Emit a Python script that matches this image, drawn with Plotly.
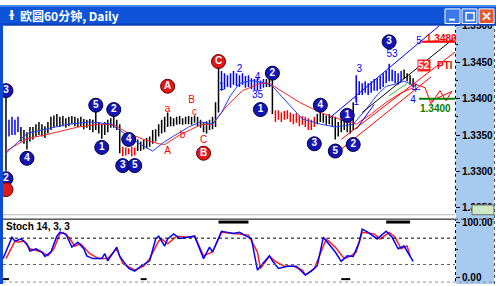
import plotly.graph_objects as go

W, H = 496, 286

# ---------------- data (prices in pips above 1.3000) ----------------
bar_high = [404, 371, 375, 371, 375, 361, 357, 354, 361, 361,
            365, 368, 365, 362, 368, 375, 377, 379, 375, 376,
            373, 375, 376, 375, 373, 375, 372, 371, 372, 371,
            388, 368, 365, 368, 371, 373, 384, 371, 365, 334,
            333, 332, 334, 333, 344, 341, 344, 346, 348, 357,
            358, 365, 371, 375, 381, 375, 373, 375, 376, 373,
            375, 376, 375, 377, 375, 371, 368, 369, 371, 375,
            395, 451, 438, 435, 432, 435, 438, 435, 432, 435,
            431, 432, 428, 427, 428, 425, 427, 427, 427, 428,
            384, 384, 381, 383, 384, 381, 379, 380, 377, 376,
            375, 373, 371, 375, 379, 381, 379, 377, 379, 376,
            375, 368, 371, 371, 368, 373, 395, 432, 424, 421,
            424, 421, 424, 427, 428, 431, 435, 438, 448, 440,
            438, 435, 438, 440, 435, 432, 428]
bar_low = [301, 348, 350, 350, 354, 341, 338, 330, 341, 344,
           348, 350, 348, 346, 352, 357, 361, 362, 361, 362,
           360, 362, 365, 362, 361, 362, 358, 360, 357, 354,
           357, 352, 345, 350, 354, 360, 360, 357, 325, 321,
           322, 324, 321, 322, 328, 328, 330, 332, 334, 338,
           341, 348, 352, 354, 361, 362, 362, 364, 365, 364,
           365, 365, 364, 367, 362, 360, 354, 352, 357, 358,
           361, 381, 411, 413, 416, 415, 419, 417, 416, 419,
           415, 416, 413, 412, 411, 413, 415, 416, 416, 379,
           368, 371, 368, 371, 372, 368, 365, 367, 362, 364,
           361, 357, 357, 361, 365, 368, 367, 364, 365, 362,
           344, 348, 354, 357, 354, 352, 357, 395, 405, 405,
           408, 405, 408, 411, 411, 413, 416, 421, 424, 424,
           421, 419, 424, 427, 424, 419, 416]
bar_segments = [(0, 0, "#000000"), (1, 4, "#0000FF"), (5, 38, "#000000"),
                (39, 43, "#FF0000"), (44, 71, "#000000"), (72, 86, "#0000FF"),
                (87, 89, "#000000"), (90, 103, "#FF0000"), (104, 116, "#000000"),
                (117, 132, "#0000FF"), (133, 136, "#000000")]

ma_blue_t = [0, 7, 12, 21, 28, 35, 41, 45, 49, 53, 61, 65, 69, 72, 75, 78, 82, 87,
             89, 94, 99, 105, 110, 116, 120, 124, 127, 131, 133, 136]
ma_blue_v = [325, 352, 357, 365, 368, 365, 348, 337, 328, 341, 361, 368, 365, 381,
             404, 421, 425, 421, 417, 395, 372, 365, 361, 365, 384, 405, 417, 421, 424, 419]
ma_red_t = [0, 7, 15, 24, 31, 36, 41, 46, 51, 53, 58, 65, 69, 74, 79, 85, 88, 93,
            98, 105, 112, 117, 122, 127, 132, 136]
ma_red_v = [328, 345, 352, 361, 365, 364, 352, 344, 338, 337, 350, 364, 365, 391,
            411, 421, 421, 408, 395, 381, 371, 365, 379, 395, 408, 415]

trend_lines = [  # (t list, pips list, colour)
    ([108, 147], [373, 508], "#0000FF"),
    ([117, 123], [358, 392], "#0000FF"),
    ([119, 150], [381, 484], "#000000"),
    ([112, 150], [344, 464], "#FF0000"),
    ([110, 142], [324, 430], "#FF0000"),
    ([128, 134], [404, 421], "#33CC33"),
    ([136, 140, 142, 145, 147, 149], [421, 415, 393, 411, 397, 411], "#FF0000"),
    ([142, 149], [397, 410], "#FF0000"),
]
level_hi = 1.3478
level_lo = 1.3400

blue_circle_t = [0, 0, 7, 30, 36, 32, 41, 39, 43, 85, 89, 105, 103, 110, 116, 114, 128]
blue_circle_v = [411, 290, 318, 391, 385, 333, 344, 308, 308, 385, 435, 391, 338, 328, 337, 377, 478]
blue_circle_txt = ["3", "2", "4", "5", "2", "1", "4", "3", "5", "1", "2", "4", "3", "5", "2", "1", "3"]
red_circle_t = [0, 54, 71, 66]
red_circle_v = [275, 417, 451, 325]
red_circle_txt = ["", "A", "C", "B"]
red_text_t = [54, 62, 63, 59, 54, 66]
red_text_v = [385, 398, 381, 350, 328, 342]
red_text_txt = ["a", "B", "c", "b", "A", "C"]
blue_text_t = [78, 84, 84, 72, 118, 129, 138, 117, 137, 136]
blue_text_v = [440, 429, 404, 415, 440, 460, 478, 395, 413, 398]
blue_text_txt = ["2", "4", "35", "1", "3", "53", "5", "1", "4-", "4"]

stoch_k_t = [-1, 2, 3, 5, 7, 8, 10, 12, 13, 15, 17, 18, 20, 22, 24, 26, 27, 29, 32, 33,
             34, 37, 38, 41, 43, 45, 48, 50, 51, 53, 54, 56, 58, 60, 63, 66, 68, 69, 72, 74,
             76, 78, 81, 82, 84, 88, 89, 91, 94, 97, 100, 102, 104, 106, 110, 112, 114, 116, 118, 119,
             121, 124, 127, 129, 131, 133, 136]
stoch_k_v = [34, 73, 66, 70, 61, 48, 52, 46, 38, 46, 75, 82, 79, 55, 64, 52, 39, 34, 34, 43,
             30, 55, 38, 16, 11, 20, 30, 70, 75, 57, 70, 79, 71, 73, 75, 34, 55, 46, 84, 82,
             80, 82, 73, 70, 13, 39, 30, 16, 20, 20, 4, 11, 21, 73, 46, 29, 39, 38, 64, 88,
             82, 70, 84, 73, 52, 57, 29]
stoch_d_t = [0, 3, 4, 6, 8, 11, 12, 14, 16, 18, 19, 21, 23, 25, 28, 31, 33, 34, 37, 39,
             43, 46, 48, 51, 52, 54, 57, 61, 63, 66, 69, 72, 76, 81, 84, 85, 88, 90, 93, 96,
             99, 100, 103, 107, 110, 113, 115, 117, 119, 123, 125, 128, 130, 132, 134, 135]
stoch_d_v = [34, 66, 64, 66, 52, 48, 46, 39, 52, 79, 82, 73, 57, 61, 43, 34, 34, 34, 52, 25,
             13, 20, 34, 66, 70, 61, 75, 73, 75, 39, 46, 82, 80, 77, 46, 16, 38, 29, 20, 20,
             13, 4, 16, 70, 55, 34, 38, 46, 82, 79, 70, 82, 73, 52, 57, 39]
stoch_levels = [71.4, 23.2]
sess_top = [(71, 81), (127, 135)]
sess_bot = [(-1, 1), (45, 47), (112, 115)]


def price(p):
    return 1.3 + p / 10000.0


def fx(px):
    return px / W


def fy(py):
    return 1 - py / H


fig = go.Figure()

# price bars
for a, b, col in bar_segments:
    xs, ys = [], []
    for t in range(a, b + 1):
        xs += [t, t, None]
        ys += [price(bar_low[t]), price(bar_high[t]), None]
    fig.add_trace(go.Scatter(x=xs, y=ys, mode="lines", line=dict(color=col, width=1.5),
                             hoverinfo="skip", xaxis="x", yaxis="y"))

# moving averages
fig.add_trace(go.Scatter(x=ma_red_t, y=[price(v) for v in ma_red_v], mode="lines",
                         line=dict(color="#FF2020", width=1), xaxis="x", yaxis="y"))
fig.add_trace(go.Scatter(x=ma_blue_t, y=[price(v) for v in ma_blue_v], mode="lines",
                         line=dict(color="#2040FF", width=1), xaxis="x", yaxis="y"))

for ts, vs, col in trend_lines:
    fig.add_trace(go.Scatter(x=ts, y=[price(v) for v in vs], mode="lines",
                             line=dict(color=col, width=1), xaxis="x", yaxis="y"))

# levels
fig.add_trace(go.Scatter(x=[139, 150], y=[level_hi, level_hi], mode="lines",
                         line=dict(color="#FF0000", width=2), xaxis="x", yaxis="y"))
fig.add_trace(go.Scatter(x=[138, 150], y=[level_lo, level_lo], mode="lines",
                         line=dict(color="#008000", width=2), xaxis="x", yaxis="y"))

# wave circles
fig.add_trace(go.Scatter(
    x=blue_circle_t, y=[price(v) for v in blue_circle_v], mode="markers+text",
    text=blue_circle_txt, textposition="middle center",
    textfont=dict(family="Liberation Sans", size=10, color="white", weight="bold"),
    marker=dict(size=14, color="#1414B4", line=dict(color="#000040", width=1)),
    xaxis="x", yaxis="y"))
fig.add_trace(go.Scatter(
    x=red_circle_t, y=[price(v) for v in red_circle_v], mode="markers+text",
    text=red_circle_txt, textposition="middle center",
    textfont=dict(family="Liberation Sans", size=10, color="white", weight="bold"),
    marker=dict(size=14, color="#E01818", line=dict(color="#600000", width=1)),
    xaxis="x", yaxis="y"))
fig.add_trace(go.Scatter(
    x=red_text_t, y=[price(v) for v in red_text_v], mode="text", text=red_text_txt,
    textposition="middle center",
    textfont=dict(family="Liberation Sans", size=10, color="#FF0000"),
    xaxis="x", yaxis="y"))
fig.add_trace(go.Scatter(
    x=blue_text_t, y=[price(v) for v in blue_text_v], mode="text", text=blue_text_txt,
    textposition="middle center",
    textfont=dict(family="Liberation Sans", size=10, color="#0000FF"),
    xaxis="x", yaxis="y"))

# stochastic
fig.add_trace(go.Scatter(x=stoch_d_t, y=stoch_d_v, mode="lines",
                         line=dict(color="#FF2020", width=1.5), xaxis="x2", yaxis="y2"))
fig.add_trace(go.Scatter(x=stoch_k_t, y=stoch_k_v, mode="lines",
                         line=dict(color="#0000FF", width=1.5), xaxis="x2", yaxis="y2"))

tickfont = dict(family="Liberation Sans", size=10, color="black", weight="bold")
fig.update_layout(
    width=W, height=H, margin=dict(l=0, r=0, t=0, b=0),
    paper_bgcolor="white", plot_bgcolor="white", showlegend=False, hovermode=False,
    font=dict(family="Liberation Sans"),
    xaxis=dict(domain=[fx(3), fx(455)], range=[-1, 150], showticklabels=False,
               showgrid=False, zeroline=False, ticks="", anchor="y"),
    yaxis=dict(domain=[fy(213), fy(21)], range=[1.32432, 1.35005], side="right", anchor="x",
               showgrid=False, zeroline=False, tick0=1.3, dtick=0.005, tickformat=".4f",
               ticks="outside", ticklen=4, tickcolor="black", tickfont=tickfont,
               minor=dict(tick0=1.3, dtick=0.0025, ticks="outside", ticklen=2, tickcolor="black")),
    xaxis2=dict(domain=[fx(3), fx(455)], matches="x", showticklabels=False,
                showgrid=False, zeroline=False, ticks="", anchor="y2"),
    yaxis2=dict(domain=[fy(283), fy(219)], range=[-7.14, 107.14], side="right", anchor="x2",
                showgrid=False, zeroline=False, tickmode="array", tickvals=[0, 100],
                ticktext=["0.00", "100.00"], ticks="outside", ticklen=4, tickcolor="black",
                tickfont=tickfont,
                minor=dict(tickmode="array", tickvals=[50], ticks="outside", ticklen=2,
                           tickcolor="black")),
)

shapes = []
# right axis panel
shapes.append(dict(type="rect", xref="paper", yref="paper", x0=fx(456), x1=fx(494), y0=0, y1=fy(21),
                   fillcolor="#A6CAF0", line=dict(width=0), layer="below"))
# separator and borders
shapes.append(dict(type="line", xref="paper", yref="paper", x0=fx(3), x1=fx(455), y0=fy(215), y1=fy(215),
                   line=dict(color="#B8B8B8", width=1)))
shapes.append(dict(type="line", xref="paper", yref="paper", x0=fx(3), x1=fx(455), y0=fy(219.5), y1=fy(219.5),
                   line=dict(color="#000000", width=1)))
shapes.append(dict(type="line", xref="paper", yref="paper", x0=fx(455), x1=fx(494), y0=fy(219.5), y1=fy(219.5),
                   line=dict(color="#404040", width=1, dash="dot")))
shapes.append(dict(type="line", xref="paper", yref="paper", x0=fx(3), x1=fx(494), y0=fy(284), y1=fy(284),
                   line=dict(color="#909090", width=1, dash="dot")))
shapes.append(dict(type="line", xref="paper", yref="paper", x0=fx(455.5), x1=fx(455.5), y0=fy(213), y1=fy(21),
                   line=dict(color="#000000", width=1, dash="dot")))
shapes.append(dict(type="line", xref="paper", yref="paper", x0=fx(455.5), x1=fx(455.5), y0=fy(283), y1=fy(220),
                   line=dict(color="#000000", width=1, dash="dot")))
shapes.append(dict(type="line", xref="paper", yref="paper", x0=fx(494.5), x1=fx(494.5), y0=0, y1=fy(21),
                   line=dict(color="#505050", width=1, dash="dot")))
# stochastic levels
for i, lv in enumerate(stoch_levels):
    shapes.append(dict(type="line", xref="x2 domain", yref="y2", x0=0, x1=1, y0=lv, y1=lv,
                       line=dict(color="#000000" if i == 0 else "#606060", width=1, dash="dot")))
for a, b in sess_top:
    shapes.append(dict(type="line", xref="x2", yref="paper", x0=a, x1=b, y0=fy(222.5), y1=fy(222.5),
                       line=dict(color="#000000", width=3)))
for a, b in sess_bot:
    shapes.append(dict(type="line", xref="x2", yref="paper", x0=a, x1=b, y0=fy(281), y1=fy(281),
                       line=dict(color="#000000", width=2)))
# small icon at bottom of price axis
shapes.append(dict(type="rect", xref="paper", yref="paper", x0=fx(472), x1=fx(494), y0=fy(215), y1=fy(205),
                   fillcolor="#CFE8C8", line=dict(color="#607060", width=1), layer="above"))
# window chrome
shapes.append(dict(type="rect", xref="paper", yref="paper", x0=0, x1=1, y0=fy(21), y1=1,
                   fillcolor="#0F54D8", line=dict(width=0), layer="above"))
shapes.append(dict(type="rect", xref="paper", yref="paper", x0=0, x1=1, y0=fy(2), y1=1,
                   fillcolor="#3C88F4", line=dict(width=0), layer="above"))
shapes.append(dict(type="rect", xref="paper", yref="paper", x0=0, x1=1, y0=fy(21), y1=fy(19),
                   fillcolor="#0A3FB4", line=dict(width=0), layer="above"))
shapes.append(dict(type="rect", xref="paper", yref="paper", x0=0, x1=fx(3), y0=0, y1=fy(19),
                   fillcolor="#0B4CD4", line=dict(width=0), layer="above"))
for x0, col in [(445, "#3A78EC"), (462, "#3A78EC"), (479, "#E2582E")]:
    shapes.append(dict(type="rect", xref="paper", yref="paper", x0=fx(x0), x1=fx(x0 + 15),
                       y0=fy(19), y1=fy(4), fillcolor=col, line=dict(color="white", width=1),
                       layer="above"))
shapes.append(dict(type="line", xref="paper", yref="paper", x0=fx(449), x1=fx(455), y0=fy(15), y1=fy(15),
                   line=dict(color="white", width=2), layer="above"))
shapes.append(dict(type="rect", xref="paper", yref="paper", x0=fx(466), x1=fx(474), y0=fy(16), y1=fy(8),
                   line=dict(color="white", width=1.5), layer="above"))
shapes.append(dict(type="line", xref="paper", yref="paper", x0=fx(483), x1=fx(490), y0=fy(8), y1=fy(15),
                   line=dict(color="white", width=2), layer="above"))
shapes.append(dict(type="line", xref="paper", yref="paper", x0=fx(490), x1=fx(483), y0=fy(8), y1=fy(15),
                   line=dict(color="white", width=2), layer="above"))
fig.update_layout(shapes=shapes)

ann = []
ann.append(dict(xref="paper", yref="paper", x=fx(6), y=fy(10.5), text="ɫ", showarrow=False,
                xanchor="left", yanchor="middle",
                font=dict(family="DejaVu Sans", size=13, color="white", weight="bold")))
ann.append(dict(xref="paper", yref="paper", x=fx(18), y=fy(10.5), text="欧圆60分钟, Daily", showarrow=False,
                xanchor="left", yanchor="middle",
                font=dict(family="Noto Sans CJK SC", size=12, color="white", weight="bold")))
ann.append(dict(xref="paper", yref="paper", x=fx(4), y=fy(227), text="Stoch 14, 3, 3", showarrow=False,
                xanchor="left", yanchor="middle",
                font=dict(family="Liberation Sans", size=10, color="black", weight="bold")))
ann.append(dict(xref="x", yref="y", x=145.5, y=level_hi + 0.0005, text="1.3480", showarrow=False,
                xanchor="center", yanchor="middle",
                font=dict(family="Liberation Sans", size=10, color="#FF0000", weight="bold")))
ann.append(dict(xref="x", yref="y", x=143.5, y=level_lo - 0.0013, text="1.3400", showarrow=False,
                xanchor="center", yanchor="middle",
                font=dict(family="Liberation Sans", size=10, color="#008000", weight="bold")))
ann.append(dict(xref="x", yref="y", x=139.5, y=price(446), text="52", showarrow=False,
                xanchor="center", yanchor="middle", bgcolor="#FF2020", borderpad=0,
                font=dict(family="Liberation Sans", size=10, color="white", weight="bold")))
ann.append(dict(xref="x", yref="y", x=146.5, y=price(446), text="PTI", showarrow=False,
                xanchor="center", yanchor="middle",
                font=dict(family="Liberation Sans", size=10, color="#FF0000", weight="bold")))
fig.update_layout(annotations=ann)

fig.write_html("out.html")
